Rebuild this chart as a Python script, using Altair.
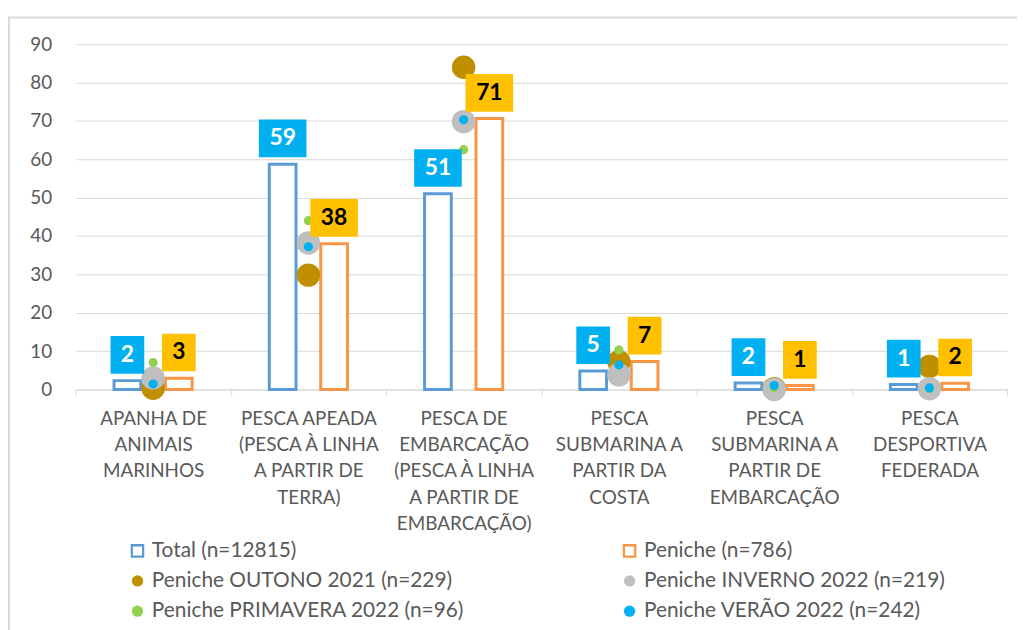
import altair as alt
import pandas as pd

categories = [
    "APANHA DE|ANIMAIS|MARINHOS",
    "PESCA APEADA|(PESCA À LINHA|A PARTIR DE|TERRA)",
    "PESCA DE|EMBARCAÇÃO|(PESCA À LINHA|A PARTIR DE|EMBARCAÇÃO)",
    "PESCA|SUBMARINA A|PARTIR DA|COSTA",
    "PESCA|SUBMARINA A|PARTIR DE|EMBARCAÇÃO",
    "PESCA|DESPORTIVA|FEDERADA",
]
bar_series = ["Total (n=12815)", "Peniche (n=786)"]
total_values = [2.3, 58.7, 51.0, 4.8, 1.7, 1.3]
peniche_values = [2.9, 38.0, 70.6, 7.3, 1.0, 1.6]

dot_series = [
    "Peniche OUTONO 2021 (n=229)",
    "Peniche INVERNO 2022 (n=219)",
    "Peniche PRIMAVERA 2022 (n=96)",
    "Peniche VERÃO 2022 (n=242)",
]
outono_values = [0.3, 29.8, 84.0, 7.2, 0.2, 6.0]
inverno_values = [3.0, 38.2, 69.8, 3.8, 0.0, 0.2]
primavera_values = [7.0, 44.0, 62.5, 10.3, 0.5, 0.3]
verao_values = [1.4, 37.2, 70.3, 6.4, 1.0, 0.4]

all_series = bar_series + dot_series
series_colors = ["#5B9BD5", "#F79646", "#BF8F00", "#BFBFBF", "#92D050", "#00B0F0"]
HOLLOW = "M-1.2,-1.2L1.2,-1.2L1.2,1.2L-1.2,1.2ZM-0.8,-0.8L-0.8,0.8L0.8,0.8L0.8,-0.8Z"
series_shapes = [HOLLOW, HOLLOW, "circle", "circle", "circle", "circle"]
dot_sizes = [560, 560, 85, 85]

bar_rows = []
for s, vals in zip(bar_series, [total_values, peniche_values]):
    for c, v in zip(categories, vals):
        bar_rows.append({"cat": c, "series": s, "value": v})
bar_df = pd.DataFrame(bar_rows)

dot_rows = []
for s, vals in zip(dot_series, [outono_values, inverno_values, primavera_values, verao_values]):
    for c, v in zip(categories, vals):
        dot_rows.append({"cat": c, "series": s, "value": v})
dot_df = pd.DataFrame(dot_rows)

FONT = "Lato"
GREY = "#595959"
GRID = "#D9D9D9"

x_enc = alt.X(
    "cat:N",
    sort=categories,
    scale=alt.Scale(domain=categories, paddingInner=0, paddingOuter=0),
    axis=alt.Axis(
        title=None, labelAngle=0, labelExpr="split(datum.label, '|')",
        labelFontSize=19, labelColor=GREY, labelFont=FONT, labelLineHeight=26.5,
        labelPadding=14, tickBand="extent", tickSize=6, tickColor=GRID,
        domainColor=GRID, labelLimit=400, grid=False,
    ),
)
y_enc = alt.Y(
    "value:Q",
    scale=alt.Scale(domain=[0, 90], nice=False),
    axis=alt.Axis(
        title=None, values=list(range(0, 91, 10)), grid=True, gridColor=GRID,
        domain=False, ticks=False, labelFontSize=19, labelColor=GREY,
        labelFont=FONT, labelPadding=24,
    ),
)
xoff_enc = alt.XOffset(
    "series:N", sort=bar_series,
    scale=alt.Scale(domain=bar_series, paddingInner=0.48, paddingOuter=0.75),
)

legend = alt.Legend(
    title=None, orient="none", legendX=52, legendY=500, columns=2,
    direction="horizontal", columnPadding=156, rowPadding=8.5,
    labelFontSize=21, labelColor=GREY, labelFont=FONT, symbolSize=130,
    symbolStrokeWidth=0, padding=0, labelOffset=4, labelLimit=600,
)
color_enc = alt.Color("series:N", scale=alt.Scale(domain=all_series, range=series_colors), legend=legend)
shape_enc = alt.Shape("series:N", scale=alt.Scale(domain=all_series, range=series_shapes), legend=legend)
size_enc = alt.Size("series:N", scale=alt.Scale(type="ordinal", domain=dot_series, range=dot_sizes), legend=None)

frame_src = alt.Chart(pd.DataFrame({"f": [0]}))
frame_left = frame_src.mark_rule(color=GRID, strokeWidth=2).encode(
    x=alt.value(-67), y=alt.value(-28), y2=alt.value(640)
)
frame_top = frame_src.mark_rule(color=GRID, strokeWidth=2).encode(
    y=alt.value(-27), x=alt.value(-68), x2=alt.value(1200)
)

bars = alt.Chart(bar_df).mark_bar(
    filled=False, fill="white", strokeWidth=3
).encode(
    x=x_enc, y=y_enc, xOffset=xoff_enc,
    stroke=alt.Stroke("series:N", scale=alt.Scale(domain=bar_series, range=series_colors[:2]), legend=None),
)

is_total = alt.datum.series == "Total (n=12815)"
label_base = alt.Chart(bar_df).transform_calculate(
    label="format(datum.value, '.0f')"
)
BOX2 = "M-2.4,-4.5L2.4,-4.5L2.4,-0.7L-2.4,-0.7Z"
BOX1 = "M-1.7,-4.5L1.7,-4.5L1.7,-0.7L-1.7,-0.7Z"
box_fill = alt.when(is_total).then(alt.value("#00B0F0")).otherwise(alt.value("#FFC000"))
boxes2 = label_base.transform_filter("length(datum.label) > 1").mark_point(
    shape=BOX2, size=400, filled=True, opacity=1, strokeWidth=0
).encode(x=x_enc, y=y_enc, xOffset=xoff_enc, fill=box_fill)
boxes1 = label_base.transform_filter("length(datum.label) == 1").mark_point(
    shape=BOX1, size=400, filled=True, opacity=1, strokeWidth=0
).encode(x=x_enc, y=y_enc, xOffset=xoff_enc, fill=box_fill)
texts = label_base.mark_text(
    font=FONT, fontSize=23, fontWeight="bold", dy=-26, baseline="middle", align="center"
).encode(
    x=x_enc, y=y_enc, xOffset=xoff_enc, text="label:N",
    fill=alt.when(is_total).then(alt.value("white")).otherwise(alt.value("black")),
)

dots = alt.Chart(dot_df).mark_point(filled=True, opacity=1, strokeWidth=0).encode(
    x=x_enc, y=y_enc, color=color_enc, shape=shape_enc, size=size_enc,
)

chart = alt.layer(frame_left, frame_top, bars, dots, boxes2, boxes1, texts).properties(
    width=939, height=348,
    padding={"left": 68, "top": 34, "right": 10, "bottom": 240},
    autosize=alt.AutoSizeParams(type="none"),
).configure_view(stroke=None)

chart.save("out.html", embed_options={"renderer": "svg", "actions": False})
